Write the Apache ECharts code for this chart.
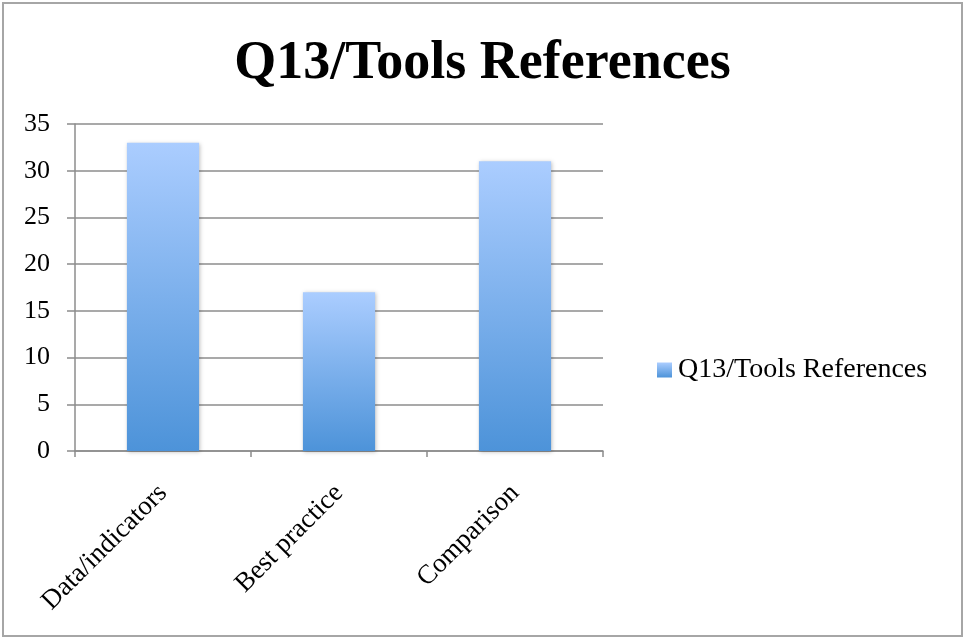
<!DOCTYPE html>
<html>
<head>
<meta charset="utf-8">
<script src="https://cdn.jsdelivr.net/npm/echarts@6/dist/echarts.min.js"></script>
<style>
  html, body { margin: 0; padding: 0; background: #fff; }
  #chart { position: absolute; left: 2px; top: 2px; width: 957px; height: 631px; border: 2px solid #a6a6a6; }
</style>
</head>
<body>
<div id="chart"></div>
<script>
// chart data
const categories = ['Data/indicators', 'Best practice', 'Comparison']
const values = [33, 17, 31]
const seriesName = 'Q13/Tools References'
const yTicks = { min: 0, max: 35, interval: 5 }

const font = 'Liberation Serif'
const myChart = echarts.init(document.getElementById('chart'))
const option = {
  animation: false,
  title: {
    text: 'Q13/Tools References',
    left: 'center',
    top: 28,
    textStyle: { fontFamily: font, fontWeight: 'bold', fontSize: 54, color: '#000' }
  },
  legend: {
    orient: 'vertical',
    left: 648,
    top: 347,
    itemWidth: 15,
    itemHeight: 15,
    icon: 'rect',
    textStyle: { fontFamily: font, fontSize: 28, color: '#000', padding: [3, 0, 0, 1] },
    data: [seriesName]
  },
  grid: {
    left: 71,
    right: 358,
    top: 120,
    bottom: 184,
    containLabel: false
  },
  xAxis: {
    type: 'category',
    data: categories,
    axisLine: { lineStyle: { color: '#8c8c8c', width: 1.5 } },
    axisTick: { show: true, length: 6, lineStyle: { color: '#8c8c8c', width: 1.5 } },
    axisLabel: {
      rotate: 45,
      margin: 38,
      fontFamily: font,
      fontSize: 27,
      color: '#000'
    }
  },
  yAxis: {
    type: 'value',
    min: yTicks.min,
    max: yTicks.max,
    interval: yTicks.interval,
    axisLine: { show: true, lineStyle: { color: '#8c8c8c', width: 1.5 } },
    axisTick: { show: true, length: 8, lineStyle: { color: '#8c8c8c', width: 1.5 } },
    splitLine: { lineStyle: { color: '#8c8c8c', width: 1.5 } },
    axisLabel: { margin: 25, fontFamily: font, fontSize: 26, color: '#000', padding: [4, 0, 0, 0] }
  },
  series: [
    {
      name: seriesName,
      type: 'bar',
      barWidth: '41%',
      data: values,
      itemStyle: {
        color: new echarts.graphic.LinearGradient(0, 0, 0, 1, [
          { offset: 0, color: '#abcdff' },
          { offset: 1, color: '#4d93d9' }
        ]),
        shadowBlur: 4,
        shadowColor: 'rgba(0, 0, 0, 0.25)',
        shadowOffsetX: 1,
        shadowOffsetY: 1
      }
    }
  ]
}
myChart.setOption(option)
</script>
</body>
</html>
